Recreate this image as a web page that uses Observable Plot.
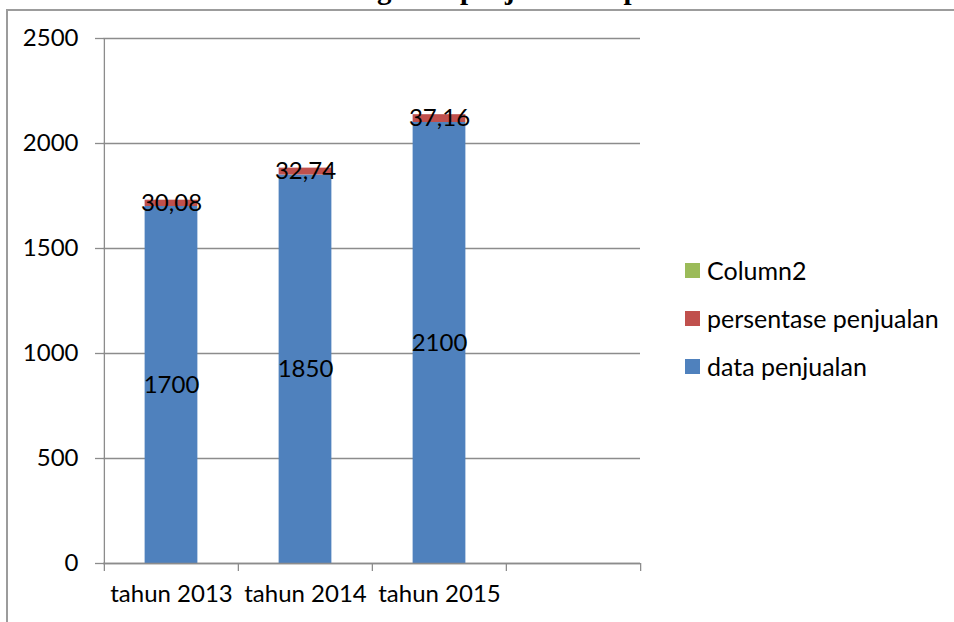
<!DOCTYPE html>
<html>
<head>
<meta charset="utf-8">
<script src="https://cdn.jsdelivr.net/npm/d3@7"></script>
<script src="https://cdn.jsdelivr.net/npm/@observablehq/plot@0.6"></script>
<style>
  html, body { margin: 0; padding: 0; background: #fff; overflow: hidden; }
  #wrap { position: relative; width: 954px; height: 622px; overflow: hidden; background: #fff; }
  #frame { position: absolute; left: 6px; top: 9px; width: 960px; height: 630px;
           border-top: 2px solid #9c9c9c; border-left: 2px solid #9c9c9c; box-sizing: border-box; }
  #title { position: absolute; left: 377px; top: -25px; font-family: "Liberation Serif", serif;
           font-weight: bold; font-size: 29px; line-height: 29px; white-space: nowrap; color: #000; }
  #chart { position: absolute; left: 0; top: 0; }
  #legend { position: absolute; left: 685px; top: 246px; font-family: Lato, sans-serif; font-size: 25px; color: #000; }
  .row { display: flex; align-items: center; height: 48px; }
  .sw { width: 15px; height: 15px; margin-right: 7px; }
</style>
</head>
<body>
<div id="wrap">
  <div id="frame"></div>
  <div id="title">grafik penjualan tiap tahun</div>
  <div id="chart"></div>
  <div id="legend"></div>
</div>
<script>
const categories = ["tahun 2013", "tahun 2014", "tahun 2015"];
const emptyCategory = " ";
const dataPenjualan = [1700, 1850, 2100];
const persentasePenjualan = [30.08, 32.74, 37.16];
const column2 = [0, 0, 0];
const seriesNames = ["Column2", "persentase penjualan", "data penjualan"];
const seriesColors = ["#9BBB59", "#C0504D", "#4F81BD"];
const yTicks = [0, 500, 1000, 1500, 2000, 2500];

const fmt = v => String(v).replace(".", ",");
const rows = [];
categories.forEach((c, i) => {
  rows.push({cat: c, series: "data penjualan", value: dataPenjualan[i], label: fmt(dataPenjualan[i])});
  rows.push({cat: c, series: "persentase penjualan", value: persentasePenjualan[i], label: fmt(persentasePenjualan[i])});
  rows.push({cat: c, series: "Column2", value: column2[i], label: ""});
});

const W = 954, H = 622, mL = 103, mR = 314, mT = 38, mB = 59;
const xDomain = [...categories, emptyCategory];
const bw = (W - mL - mR) / xDomain.length;
const barW = 53;
const inset = (bw - barW) / 2;
const gray = "#8c8c8c";
const fs = 24;
const tickUnits = 8 * 2500 / (H - mT - mB);

const chart = Plot.plot({
  width: W, height: H,
  marginLeft: mL, marginRight: mR, marginTop: mT, marginBottom: mB,
  style: {fontFamily: "Lato, sans-serif", fontSize: fs + "px", color: "#000", background: "transparent", overflow: "visible"},
  x: {type: "band", domain: xDomain, padding: 0, axis: null, label: null},
  y: {domain: [0, 2500], axis: null, label: null},
  color: {domain: seriesNames, range: seriesColors},
  marks: [
    Plot.gridY(yTicks, {stroke: gray, strokeOpacity: 1, strokeWidth: 1.3}),
    Plot.barY(rows, Plot.stackY({x: "cat", y: "value", fill: "series", insetLeft: inset, insetRight: inset})),
    Plot.text(rows.filter(d => d.value > 0), Plot.stackY({x: "cat", y: "value", text: "label", fill: "#000", fontSize: fs})),
    Plot.ruleX([categories[0]], {dx: -bw / 2, y1: 0, y2: 2500, stroke: gray, strokeWidth: 1.3}),
    Plot.ruleY([0], {stroke: gray, strokeWidth: 1.3}),
    Plot.ruleX(xDomain, {dx: -bw / 2, y1: 0, y2: -tickUnits, stroke: gray, strokeWidth: 1.3}),
    Plot.ruleX([emptyCategory], {dx: bw / 2, y1: 0, y2: -tickUnits, stroke: gray, strokeWidth: 1.3}),
    Plot.axisY(yTicks, {tickSize: 8, tickPadding: 17, tickFormat: d => String(d), stroke: gray, strokeWidth: 1.3, fill: "#000", fontSize: fs, label: null}),
    Plot.axisX(categories, {tickSize: 0, tickPadding: 21, fill: "#000", fontSize: fs, label: null})
  ]
});
document.getElementById("chart").appendChild(chart);

const legend = document.getElementById("legend");
seriesNames.forEach((name, i) => {
  const row = document.createElement("div");
  row.className = "row";
  const sw = document.createElement("div");
  sw.className = "sw";
  sw.style.background = seriesColors[i];
  const lab = document.createElement("span");
  lab.textContent = name;
  row.appendChild(sw);
  row.appendChild(lab);
  legend.appendChild(row);
});
</script>
</body>
</html>
